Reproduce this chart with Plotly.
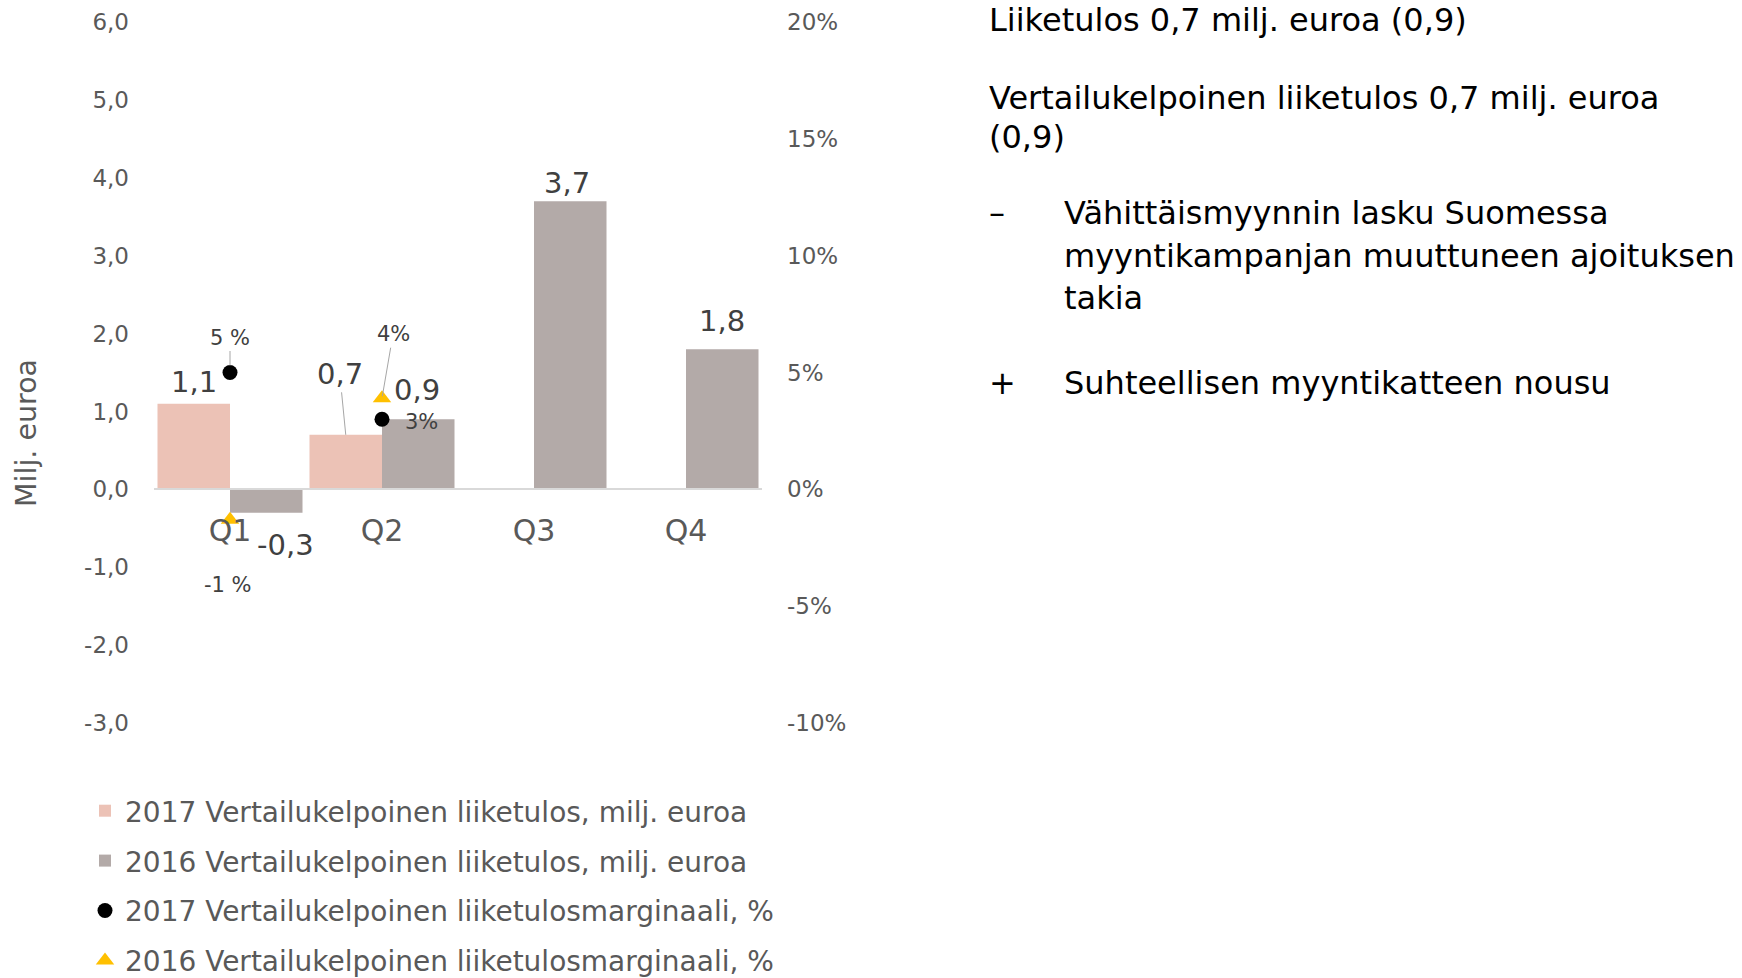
import plotly.graph_objects as go

# ---------------- data ----------------
quarters = ["Q1", "Q2", "Q3", "Q4"]
liiketulos_2017 = [1.1, 0.7, None, None]
liiketulos_2016 = [-0.3, 0.9, 3.7, 1.8]
marginaali_2017 = [5.0, 3.0, None, None]
marginaali_2016 = [-1.3, 3.9, None, None]

labels_liiketulos_2017 = ["1,1", "0,7", "", ""]
labels_liiketulos_2016 = ["-0,3", "0,9", "3,7", "1,8"]
labels_marginaali_2017 = ["5 %", "3%", "", ""]
labels_marginaali_2016 = ["-1 %", "4%", "", ""]

left_tick_vals = [-3, -2, -1, 0, 1, 2, 3, 4, 5, 6]
left_tick_text = ["-3,0", "-2,0", "-1,0", "0,0", "1,0", "2,0", "3,0", "4,0", "5,0", "6,0"]
right_tick_vals = [-10, -5, 0, 5, 10, 15, 20]
right_tick_text = ["-10%", "-5%", "0%", "5%", "10%", "15%", "20%"]

series_names = [
    "2017 Vertailukelpoinen liiketulos, milj. euroa",
    "2016 Vertailukelpoinen liiketulos, milj. euroa",
    "2017 Vertailukelpoinen liiketulosmarginaali, %",
    "2016 Vertailukelpoinen liiketulosmarginaali, %",
]
y_title = "Milj. euroa"

side_lines = [
    ("", "Liiketulos 0,7 milj. euroa (0,9)"),
    ("", "Vertailukelpoinen liiketulos 0,7 milj. euroa"),
    ("", "(0,9)"),
    ("–", "Vähittäismyynnin lasku Suomessa"),
    ("", "myyntikampanjan muuttuneen ajoituksen"),
    ("", "takia"),
    ("+", "Suhteellisen myyntikatteen nousu"),
]

# ---------------- layout / style ----------------
W, H = 1742, 978
OFF = 0                      # body margin is removed by the post script
X0, X1 = 154 - OFF, 762 - OFF    # plot area in figure pixels
Y_TOP, Y_BOT = 22 - OFF, 723 - OFF
Y_RANGE = [-3, 6]
Y2_RANGE = [-10, 20]
BARGAP = 0.046
HALF = (1 - BARGAP) / 4     # offset of grouped bar centre from category centre

C_2017 = "#ecc2b6"
C_2016 = "#b3aaa8"
C_DOT = "#000000"
C_TRI = "#ffc000"
C_AXIS_TXT = "#595959"
C_LABEL = "#404040"
C_LEADER = "#a6a6a6"
FONT = "DejaVu Sans"


def px_x(px):
    """window pixel -> paper fraction"""
    return (px - OFF - X0) / (X1 - X0)


def px_y(py):
    return (Y_BOT - (py - OFF)) / (Y_BOT - Y_TOP)


fig = go.Figure()
fig.add_trace(go.Bar(x=quarters, y=liiketulos_2017, name=series_names[0],
                     marker=dict(color=C_2017, line=dict(width=0)),
                     legendgroup="a", yaxis="y"))
fig.add_trace(go.Bar(x=quarters, y=liiketulos_2016, name=series_names[1],
                     marker=dict(color=C_2016, line=dict(width=0)),
                     legendgroup="b", yaxis="y"))
fig.add_trace(go.Scatter(x=quarters, y=marginaali_2017, name=series_names[2],
                         mode="markers", marker=dict(symbol="circle", size=15, color=C_DOT),
                         legendgroup="c", yaxis="y2"))
fig.add_trace(go.Scatter(x=quarters, y=marginaali_2016, name=series_names[3],
                         mode="markers", marker=dict(symbol="triangle-up", size=16, color=C_TRI),
                         legendgroup="d", yaxis="y2"))

annotations = []

bar_style_2017 = [dict(xs=0, ys=22), dict(ax=-6, ay=-61), None, None]
bar_style_2016 = [dict(xs=19, ys=-32), dict(xs=-1, ys=29), dict(xs=-3, ys=18), dict(xs=0, ys=28)]
margin_style_2017 = [dict(ax=0, ay=-35, so=7), dict(xs=39, ys=-3), None, None]
margin_style_2016 = [dict(xs=-2, ys=-65), dict(ax=11, ay=-64, so=2), None, None]


def add_label(xpos, yval, text, st, yref, size, color):
    if yval is None or not text or st is None:
        return
    if "ax" in st:
        annotations.append(dict(
            x=xpos, y=yval, xref="x", yref=yref, text=text, showarrow=True,
            ax=st["ax"], ay=st["ay"], arrowhead=0, arrowwidth=1, arrowcolor=C_LEADER,
            standoff=st.get("so", 0), font=dict(family=FONT, size=size, color=color)))
    else:
        annotations.append(dict(
            x=xpos, y=yval, xref="x", yref=yref, text=text, showarrow=False,
            xanchor="center", yanchor="middle", xshift=st["xs"], yshift=st["ys"],
            font=dict(family=FONT, size=size, color=color)))


for i in range(len(quarters)):
    add_label(i - HALF, liiketulos_2017[i], labels_liiketulos_2017[i], bar_style_2017[i], "y", 29, C_LABEL)
    add_label(i + HALF, liiketulos_2016[i], labels_liiketulos_2016[i], bar_style_2016[i], "y", 29, C_LABEL)
    add_label(i, marginaali_2017[i], labels_marginaali_2017[i], margin_style_2017[i], "y2", 21, C_LABEL)
    add_label(i, marginaali_2016[i], labels_marginaali_2016[i], margin_style_2016[i], "y2", 21, C_LABEL)

annotations.append(dict(x=px_x(26), y=px_y(433), xref="paper", yref="paper", text=y_title,
                        textangle=-90, showarrow=False, xanchor="center", yanchor="middle",
                        font=dict(family=FONT, size=28.5, color=C_AXIS_TXT)))

side_y = [20, 98, 137, 213, 256, 298, 383]
side_indent = [False, False, False, True, True, True, True]
for (bullet, txt), yy, ind in zip(side_lines, side_y, side_indent):
    if bullet:
        annotations.append(dict(x=px_x(987), y=px_y(yy), xref="paper", yref="paper", text=bullet,
                                showarrow=False, xanchor="left", yanchor="middle",
                                font=dict(family=FONT, size=32, color="#000000")))
    tx = 1062 if ind else 987
    annotations.append(dict(x=px_x(tx), y=px_y(yy), xref="paper", yref="paper", text=txt,
                            showarrow=False, xanchor="left", yanchor="middle",
                            font=dict(family=FONT, size=32, color="#000000")))

fig.update_layout(
    width=W, height=H, autosize=False,
    margin=dict(l=X0, r=W - X1, t=Y_TOP, b=H - Y_BOT, pad=0, autoexpand=False),
    paper_bgcolor="white", plot_bgcolor="white",
    font=dict(family=FONT, color=C_AXIS_TXT),
    barmode="group", bargap=BARGAP, bargroupgap=0,
    showlegend=True,
    legend=dict(x=px_x(85), y=px_y(786), xanchor="left", yanchor="top", orientation="v",
                font=dict(family=FONT, size=28, color=C_AXIS_TXT),
                tracegroupgap=10.5, bgcolor="rgba(0,0,0,0)"),
    xaxis=dict(type="category", categoryorder="array", categoryarray=quarters,
               range=[-0.5, len(quarters) - 0.5],
               anchor="free", position=(0 - Y_RANGE[0]) / (Y_RANGE[1] - Y_RANGE[0]),
               showline=True, linecolor="#d9d9d9", linewidth=2, automargin=False,
               ticks="", ticklabelstandoff=15, showgrid=False, zeroline=False,
               tickfont=dict(family=FONT, size=30, color=C_AXIS_TXT)),
    yaxis=dict(range=Y_RANGE, tickmode="array", tickvals=left_tick_vals, ticktext=left_tick_text,
               showgrid=False, zeroline=False, showline=False, ticks="", ticklabelstandoff=24,
               automargin=False, tickfont=dict(family=FONT, size=23, color=C_AXIS_TXT)),
    yaxis2=dict(range=Y2_RANGE, overlaying="y", side="right", tickmode="array",
                tickvals=right_tick_vals, ticktext=right_tick_text, automargin=False,
                showgrid=False, zeroline=False, showline=False, ticks="", ticklabelstandoff=24,
                tickfont=dict(family=FONT, size=23, color=C_AXIS_TXT)),
    annotations=annotations,
)

fig.write_html("out.html",
               config={"displayModeBar": False},
               post_script="document.body.style.margin='0';document.body.style.overflow='hidden';")
